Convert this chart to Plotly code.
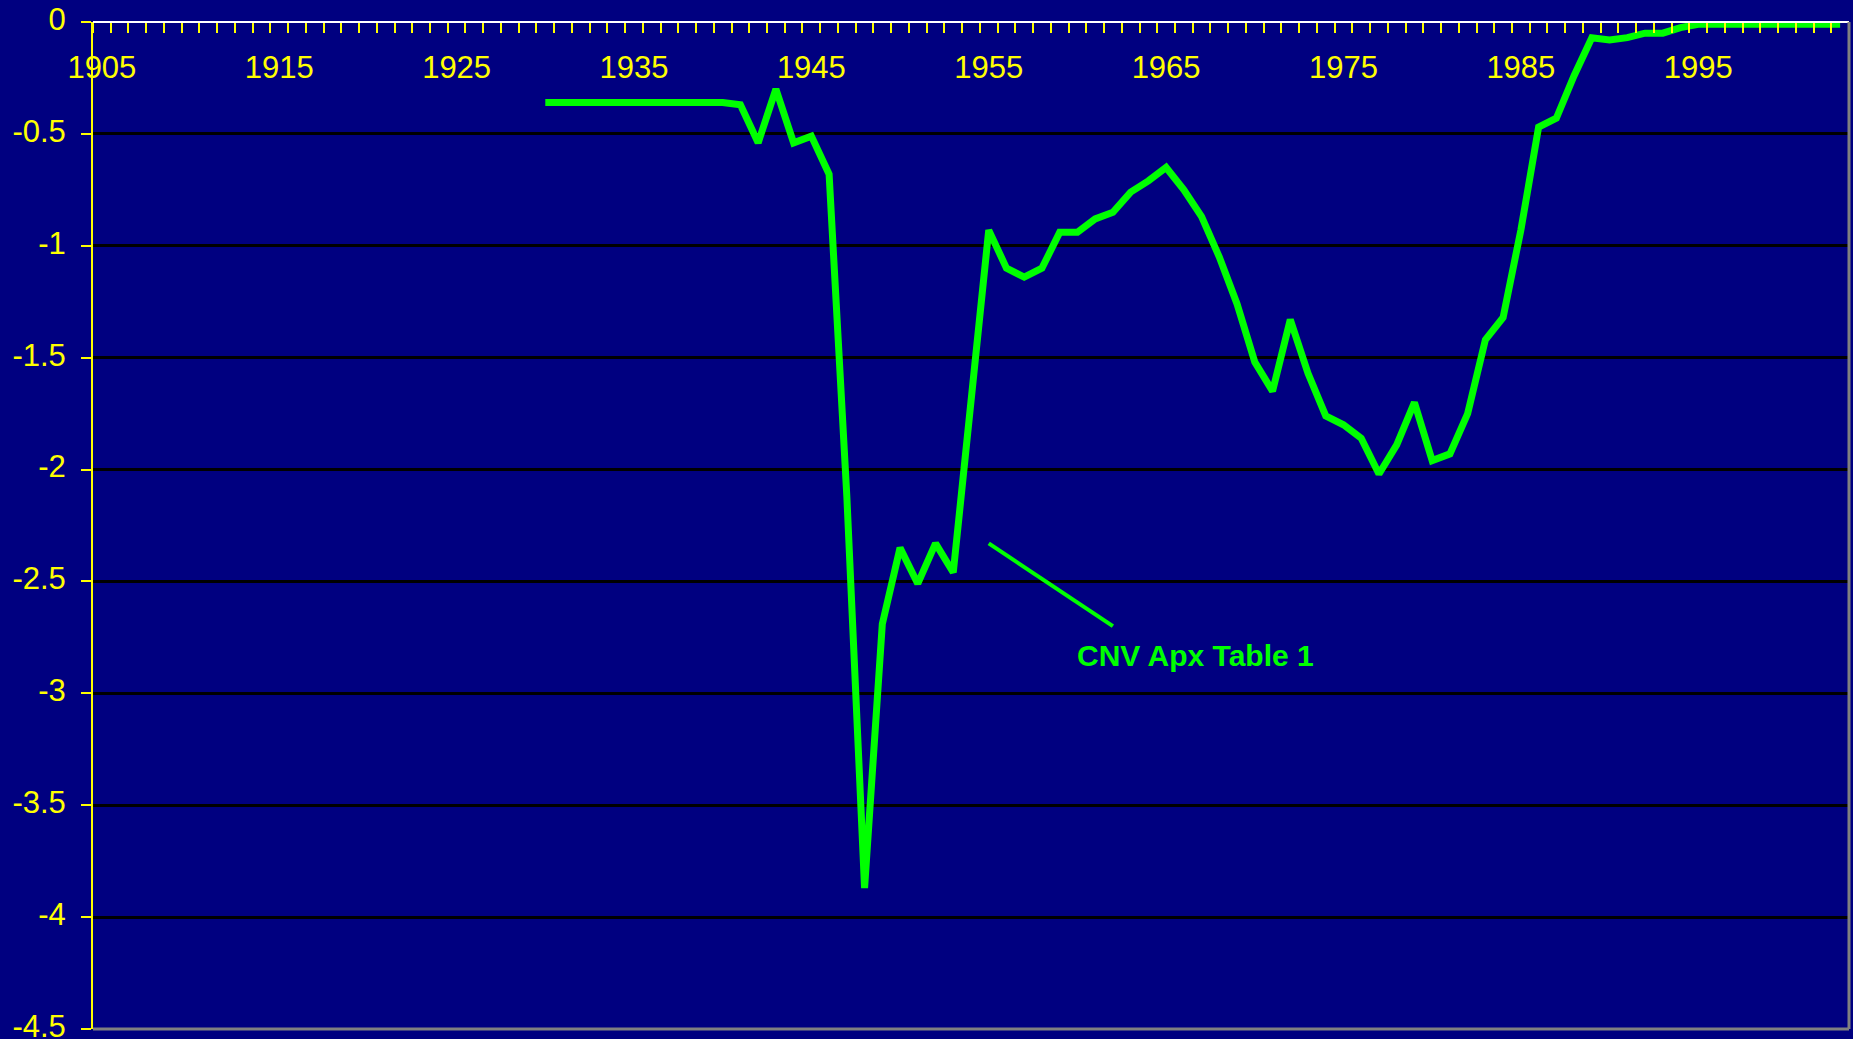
import plotly.graph_objects as go

# ---- data ----
years = list(range(1930, 2004))
values = [
    -0.36, -0.36, -0.36, -0.36, -0.36, -0.36, -0.36, -0.36, -0.36, -0.36,  # 1930-1939
    -0.36, -0.37, -0.54, -0.30, -0.54, -0.51, -0.68, -2.12, -3.87, -2.69,  # 1940-1949
    -2.35, -2.51, -2.33, -2.46, -1.72, -0.93, -1.10, -1.14, -1.10, -0.94,  # 1950-1959
    -0.94, -0.88, -0.85, -0.76, -0.71, -0.65, -0.75, -0.87, -1.05, -1.26,  # 1960-1969
    -1.52, -1.65, -1.33, -1.57, -1.76, -1.80, -1.86, -2.02, -1.89, -1.70,  # 1970-1979
    -1.96, -1.93, -1.75, -1.42, -1.32, -0.93, -0.47, -0.43, -0.24, -0.07,  # 1980-1989
    -0.08, -0.07, -0.05, -0.05, -0.025, -0.01, -0.01, -0.01, -0.01, -0.01,  # 1990-1999
    -0.01, -0.01, -0.01, -0.01,                                             # 2000-2003
]
x_label_years = [1905, 1915, 1925, 1935, 1945, 1955, 1965, 1975, 1985, 1995]
y_tick_vals = [0, -0.5, -1, -1.5, -2, -2.5, -3, -3.5, -4, -4.5]
y_tick_text = ["0", "-0.5", "-1", "-1.5", "-2", "-2.5", "-3", "-3.5", "-4", "-4.5"]
series_label = "CNV Apx Table 1"
label_pos = (1966.65, -2.83)
callout_start = (1955.0, -2.33)
callout_end = (1962.0, -2.70)

NAVY = "#000080"
GREEN = "#00FF00"
YELLOW = "#FFFF00"
FONT = "Arial, 'Liberation Sans', sans-serif"

fig = go.Figure()
fig.add_trace(go.Scatter(
    x=years, y=values, mode="lines",
    line=dict(color=GREEN, width=7),
    hoverinfo="skip", showlegend=False,
))

fig.add_shape(type="line", xref="x", yref="y",
              x0=callout_start[0], y0=callout_start[1],
              x1=callout_end[0], y1=callout_end[1],
              line=dict(color=GREEN, width=4))
fig.add_annotation(x=label_pos[0], y=label_pos[1], xref="x", yref="y",
                   text="<b>%s</b>" % series_label, showarrow=False,
                   font=dict(family=FONT, size=30, color=GREEN))

# plot-area border (bottom and right, grey)
fig.add_shape(type="line", xref="paper", yref="paper", x0=0, x1=1, y0=0, y1=0,
              line=dict(color="#808080", width=3))
fig.add_shape(type="line", xref="paper", yref="paper", x0=1, x1=1, y0=0, y1=1,
              line=dict(color="#808080", width=3))

fig.update_layout(
    width=1853, height=1039,
    margin=dict(l=93, r=4, t=22, b=10, autoexpand=False),
    paper_bgcolor=NAVY, plot_bgcolor=NAVY,
    showlegend=False,
    xaxis=dict(
        range=[1904.5, 2003.5], anchor="free", position=1, side="bottom",
        automargin=False,
        showline=True, linecolor="white", linewidth=2,
        showgrid=False, zeroline=False,
        tickmode="array", tickvals=x_label_years,
        ticktext=[str(v) for v in x_label_years],
        ticks="outside", ticklen=18, tickcolor="rgba(0,0,0,0)",
        tickfont=dict(family=FONT, size=31, color=YELLOW),
        minor=dict(tickmode="linear", tick0=1904.5, dtick=1, ticks="outside",
                   ticklen=10, tickwidth=2, tickcolor=YELLOW, showgrid=False),
    ),
    yaxis=dict(
        range=[-4.50001, 0.00001], automargin=False,
        tickmode="array", tickvals=y_tick_vals, ticktext=y_tick_text,
        ticks="outside", ticklen=10, tickwidth=2, tickcolor=YELLOW,
        showline=True, linecolor=YELLOW, linewidth=2,
        showgrid=True, gridcolor="black", gridwidth=2.5,
        zeroline=False, ticklabelstandoff=9, ticklabelshift=-3,
        ticklabeloverflow="allow",
        tickfont=dict(family=FONT, size=31, color=YELLOW),
    ),
)

fig.write_html("out.html",
               config={"displayModeBar": False},
               post_script="document.body.style.margin='0';document.body.style.overflow='hidden';")
